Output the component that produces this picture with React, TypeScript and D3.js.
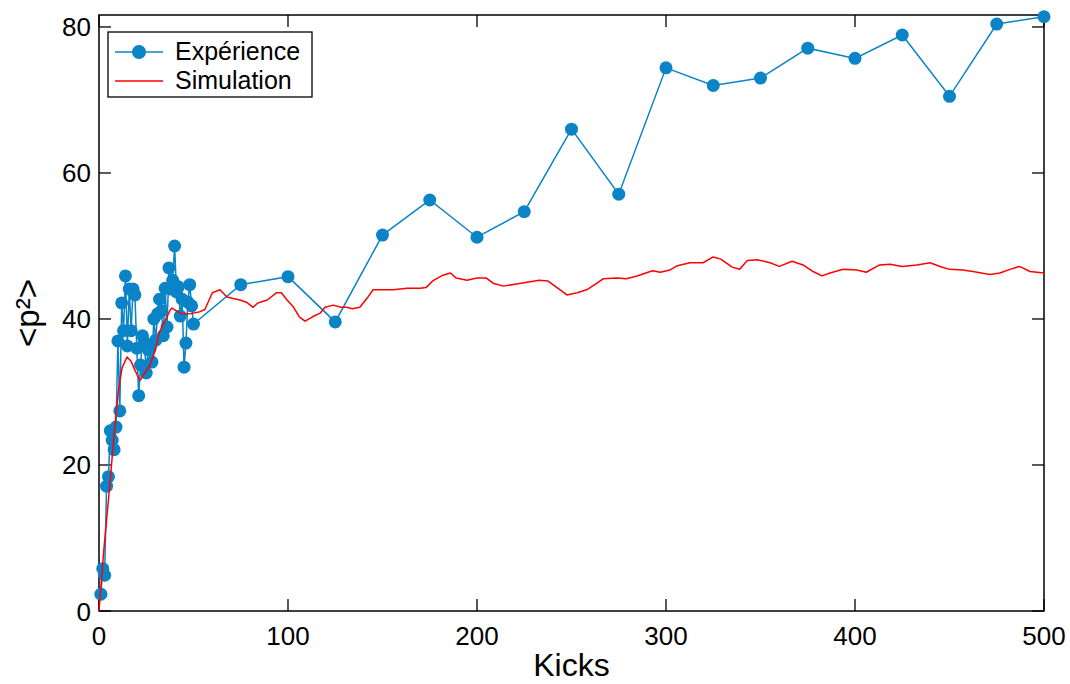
import React from "react";
import * as d3 from "d3";

const expKicks = [
  1, 2, 3, 4, 5, 6, 7, 8, 9, 10, 11, 12, 13, 14, 15, 16, 17, 18, 19, 20,
  21, 22, 23, 24, 25, 26, 27, 28, 29, 30, 31, 32, 33, 34, 35, 36, 37, 38, 39, 40,
  41, 42, 43, 44, 45, 46, 47, 48, 49, 50,
  75, 100, 125, 150, 175, 200, 225, 250, 275, 300, 325, 350, 375, 400, 425, 450, 475, 500,
];
const expValues = [
  2.3, 5.8, 4.9, 17.1, 18.4, 24.7, 23.4, 22.1, 25.2, 37.0,
  27.4, 42.2, 38.4, 45.9, 36.3, 44.1, 38.4, 44.1, 43.3, 36.0,
  29.5, 33.7, 37.7, 36.8, 32.6, 35.8, 36.0, 34.1, 40.0, 37.1,
  40.7, 42.7, 41.1, 37.7, 44.2, 38.9, 47.0, 44.1, 45.3, 50.0,
  43.7, 44.4, 40.4, 42.7, 33.4, 36.7, 42.3, 44.7, 41.8, 39.3,
  44.7, 45.8, 39.6, 51.5, 56.3, 51.2, 54.7, 66.0, 57.1, 74.4,
  72.0, 73.0, 77.1, 75.7, 78.9, 70.5, 80.4, 81.4,
];

const simKicks = [
  0, 2.6, 5.8, 7.8, 10.4, 12.2, 14.8, 17, 19, 21.7, 24, 27, 29.5, 32, 35, 37.6, 38.6, 43, 48,
  53.4, 56, 60, 64, 67.7, 71, 74.6, 78, 81.5, 84, 89, 94, 96.5, 99.5, 103, 106, 109, 113, 117,
  119.6, 124, 128, 131, 134, 138, 142, 145, 150, 155.6, 163, 170, 173, 177, 182, 186, 189,
  194.7, 200, 205, 208.5, 214, 221, 228, 233, 237.6, 244, 247.6, 253, 258, 263.5, 266.7, 274,
  279, 284.7, 290.5, 293, 297, 302, 306, 312.7, 319.6, 325, 329, 335, 339, 343, 348.7, 355,
  360, 366.7, 372.5, 377.8, 382.5, 386.8, 393.7, 401, 406, 413, 418.5, 425, 432.8, 439.7, 445,
  450, 457, 462.4, 471.4, 476.7, 482, 487, 492.6, 500,
];
const simValues = [
  0, 8.5, 17.5, 23.7, 30.5, 33.3, 34.8, 34.2, 33.0, 31.6, 32.5, 33.7, 35.5, 38.2, 39.8, 41.2, 41.5,
  40.8, 40.7, 41.0, 41.3, 43.6, 44.0, 43.0, 42.8, 42.6, 42.3, 41.6, 42.2, 42.6, 43.6, 43.6, 42.6,
  41.6, 40.3, 39.7, 40.3, 40.8, 41.6, 41.9, 41.6, 41.6, 41.4, 41.6, 42.9, 44.0, 44.0, 44.0, 44.2,
  44.2, 44.3, 45.3, 46.0, 46.3, 45.6, 45.3, 45.6, 45.6, 44.9, 44.5, 44.8, 45.1, 45.3, 45.2, 44.0,
  43.3, 43.6, 44.0, 44.9, 45.5, 45.6, 45.5, 45.9, 46.4, 46.6, 46.4, 46.7, 47.3, 47.7, 47.7, 48.5,
  48.2, 47.1, 46.8, 48.0, 48.1, 47.7, 47.2, 47.9, 47.4, 46.5, 45.9, 46.3, 46.8, 46.7, 46.4, 47.4,
  47.5, 47.2, 47.4, 47.7, 47.2, 46.8, 46.7, 46.5, 46.1, 46.3, 46.8, 47.2, 46.5, 46.3,
];

const xTicks = [0, 100, 200, 300, 400, 500];
const yTicks = [0, 20, 40, 60, 80];
const legendLabels = ["Expérience", "Simulation"];

const W = 1070;
const H = 684;
const L = 99;
const R = 1044;
const T = 15;
const B = 611;
const BLUE = "#0a84c7";
const RED = "#ff0000";
const FONT = "'Liberation Sans', Arial, sans-serif";

export default function App() {
  const x = d3.scaleLinear().domain([0, 500]).range([L, R]);
  const y = d3.scaleLinear().domain([0, 81.64]).range([B, T]);

  const expPts = expKicks.map((k, i) => [k, expValues[i]] as [number, number]);
  const simPts = simKicks.map((k, i) => [k, simValues[i]] as [number, number]);

  const line = d3
    .line<[number, number]>()
    .x((d) => x(d[0]))
    .y((d) => y(d[1]));

  const tickLen = 12;

  return (
    <svg
      width={W}
      height={H}
      style={{ position: "absolute", left: 0, top: 0, display: "block", background: "#fff" }}
      fontFamily={FONT}
    >
      <rect x={0} y={0} width={W} height={H} fill="#fff" />
      <rect x={L} y={T} width={R - L} height={B - T} fill="none" stroke="#000" strokeWidth={1.5} />
      {xTicks.map((t) => (
        <g key={"xt" + t}>
          <line x1={x(t)} x2={x(t)} y1={B} y2={B - tickLen} stroke="#000" strokeWidth={1.3} />
          <line x1={x(t)} x2={x(t)} y1={T} y2={T + tickLen} stroke="#000" strokeWidth={1.3} />
          <text x={x(t)} y={645} textAnchor="middle" fontSize={26} fill="#000">
            {t}
          </text>
        </g>
      ))}
      {yTicks.map((t) => (
        <g key={"yt" + t}>
          <line x1={L} x2={L + tickLen} y1={y(t)} y2={y(t)} stroke="#000" strokeWidth={1.3} />
          <line x1={R} x2={R - tickLen} y1={y(t)} y2={y(t)} stroke="#000" strokeWidth={1.3} />
          <text x={91} y={y(t) + 9.5} textAnchor="end" fontSize={26} fill="#000">
            {t}
          </text>
        </g>
      ))}
      <text x={(L + R) / 2} y={676} textAnchor="middle" fontSize={32} fill="#000">
        Kicks
      </text>
      <text
        transform={`translate(39, ${(T + B) / 2}) rotate(-90)`}
        textAnchor="middle"
        fontSize={33}
        fill="#000"
      >
        {"<p²>"}
      </text>

      <path d={line(expPts) || ""} fill="none" stroke={BLUE} strokeWidth={1.5} />
      {expPts.map((d, i) => (
        <circle key={"c" + i} cx={x(d[0])} cy={y(d[1])} r={6.5} fill={BLUE} />
      ))}
      <path d={line(simPts) || ""} fill="none" stroke={RED} strokeWidth={1.5} strokeLinejoin="round" />

      <rect x={108} y={32} width={204} height={65} fill="#fff" stroke="#000" strokeWidth={1.3} />
      <line x1={115} x2={163} y1={52} y2={52} stroke={BLUE} strokeWidth={1.5} />
      <circle cx={139} cy={52} r={7} fill={BLUE} />
      <text x={175} y={60} fontSize={25} fill="#000">
        {legendLabels[0]}
      </text>
      <line x1={115} x2={163} y1={81} y2={81} stroke={RED} strokeWidth={1.5} />
      <text x={175} y={89} fontSize={25} fill="#000">
        {legendLabels[1]}
      </text>
    </svg>
  );
}
